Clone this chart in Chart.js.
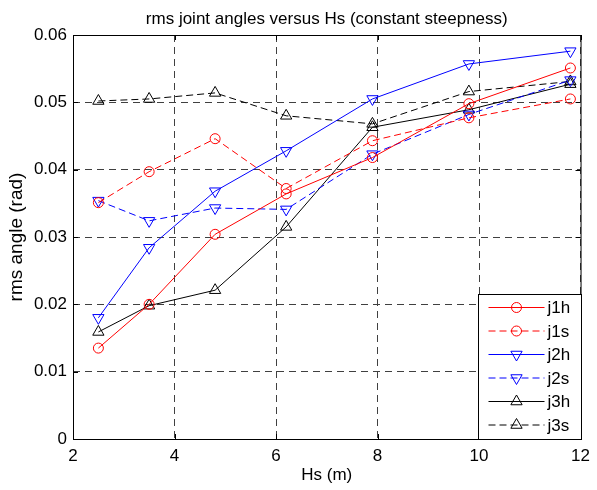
<!DOCTYPE html>
<html>
<head>
<meta charset="utf-8">
<script src="https://cdn.jsdelivr.net/npm/chart.js@4.4.0/dist/chart.umd.min.js"></script>
<style>
  body { margin: 0; background: #fff; }
</style>
</head>
<body>
<canvas id="joint-chart" width="597" height="490"></canvas>
<script>
Chart.defaults.font.family = 'Liberation Sans, Arial, sans-serif'

// Significant wave height (m)
const hs = [2.5, 3.5, 4.8, 6.2, 7.9, 9.8, 11.8];

// rms joint angles (rad)
const j1h = [0.0135, 0.0200, 0.0304, 0.0364, 0.0418, 0.0498, 0.0551];
const j1s = [0.0351, 0.0397, 0.0446, 0.0372, 0.0443, 0.0477, 0.0505];
const j2h = [0.0180, 0.0284, 0.0368, 0.0428, 0.0505, 0.0557, 0.0576];
const j2s = [0.0354, 0.0324, 0.0343, 0.0341, 0.0423, 0.0482, 0.0533];
const j3h = [0.0159, 0.0198, 0.0221, 0.0315, 0.0463, 0.0489, 0.0527];
const j3s = [0.0502, 0.0505, 0.0514, 0.0480, 0.0468, 0.0516, 0.0531];

const xTicks = [2, 4, 6, 8, 10, 12];
const yTicks = [0, 0.01, 0.02, 0.03, 0.04, 0.05, 0.06];

const titleText = 'rms joint angles versus Hs (constant steepness)';
const xLabel = 'Hs (m)';
const yLabel = 'rms angle (rad)';

// line definitions: label, data, colour, dashed?, marker
const lines = [
  { label: 'j1h', values: j1h, color: '#ff0000', dashed: false, marker: 'circle', rotation: 0 },
  { label: 'j1s', values: j1s, color: '#ff0000', dashed: true,  marker: 'circle', rotation: 0 },
  { label: 'j2h', values: j2h, color: '#0000ff', dashed: false, marker: 'triangle', rotation: 180 },
  { label: 'j2s', values: j2s, color: '#0000ff', dashed: true,  marker: 'triangle', rotation: 180 },
  { label: 'j3h', values: j3h, color: '#000000', dashed: false, marker: 'triangle', rotation: 0 },
  { label: 'j3s', values: j3s, color: '#000000', dashed: true,  marker: 'triangle', rotation: 0 }
];

const datasets = lines.map(line => ({
  label: line.label,
  data: hs.map((x, i) => ({ x: x, y: line.values[i] })),
  borderColor: line.color,
  backgroundColor: 'rgba(0,0,0,0)',
  borderWidth: 1,
  borderDash: line.dashed ? [7, 4] : [],
  pointStyle: line.marker,
  pointRotation: line.rotation,
  pointRadius: line.marker === 'circle' ? 5 : 6.5,
  pointBorderColor: line.color,
  pointBackgroundColor: 'rgba(0,0,0,0)',
  pointBorderWidth: 1,
  tension: 0,
  clip: false
}));

// title, box frame, inward ticks and the legend box
const framePlugin = {
  id: 'frame',
  afterDraw(chart) {
    const { ctx, chartArea } = chart;
    const xs = chart.scales.x, ys = chart.scales.y;
    ctx.save();

    // title
    ctx.fillStyle = '#000';
    ctx.font = '17px Liberation Sans, Arial, sans-serif';
    ctx.textAlign = 'center';
    ctx.textBaseline = 'middle';
    ctx.fillText(titleText, (chartArea.left + chartArea.right) / 2, 19);

    // axes box
    ctx.strokeStyle = '#000';
    ctx.lineWidth = 1;
    ctx.setLineDash([]);
    ctx.strokeRect(chartArea.left + 0.5, chartArea.top + 0.5,
      chartArea.right - chartArea.left, chartArea.bottom - chartArea.top);

    // inward ticks on all four sides
    const tl = 5;
    ctx.beginPath();
    xTicks.forEach(v => {
      const px = Math.round(xs.getPixelForValue(v)) + 0.5;
      ctx.moveTo(px, chartArea.bottom); ctx.lineTo(px, chartArea.bottom - tl);
      ctx.moveTo(px, chartArea.top); ctx.lineTo(px, chartArea.top + tl);
    });
    yTicks.forEach(v => {
      const py = Math.round(ys.getPixelForValue(v)) + 0.5;
      ctx.moveTo(chartArea.left, py); ctx.lineTo(chartArea.left + tl, py);
      ctx.moveTo(chartArea.right, py); ctx.lineTo(chartArea.right - tl, py);
    });
    ctx.stroke();

    // legend (south east)
    const w = 103, h = 145;
    const left = Math.round(chartArea.right - w) + 0.5;
    const top = Math.round(chartArea.bottom - h) + 0.5;
    ctx.fillStyle = '#fff';
    ctx.fillRect(left, top, w, h);
    ctx.strokeStyle = '#000';
    ctx.strokeRect(left, top, w, h);

    chart.data.datasets.forEach((ds, i) => {
      const y = top + 13 + i * 23.5;
      ctx.strokeStyle = ds.borderColor;
      ctx.lineWidth = 1;
      ctx.setLineDash(ds.borderDash);
      ctx.beginPath();
      ctx.moveTo(left + 10, y);
      ctx.lineTo(left + 66, y);
      ctx.stroke();
      ctx.setLineDash([]);
      ctx.fillStyle = 'rgba(0,0,0,0)';
      Chart.helpers.drawPoint(ctx, {
        pointStyle: ds.pointStyle,
        rotation: ds.pointRotation,
        radius: ds.pointRadius,
        borderWidth: 1
      }, left + 38, y);
      ctx.fillStyle = '#000';
      ctx.font = '17px Liberation Sans, Arial, sans-serif';
      ctx.textAlign = 'left';
      ctx.textBaseline = 'middle';
      ctx.fillText(ds.label, left + 69, y + 1);
    });

    ctx.restore();
  }
};

const gridColor = '#404040';

const config = {
  type: 'line',
  data: { datasets },
  options: {
    responsive: false,
    animation: false,
    layout: { padding: { top: 35, right: 11, left: 0, bottom: 0 } },
    plugins: {
      legend: { display: false },
      tooltip: { enabled: false },
      title: { display: false }
    },
    scales: {
      x: {
        type: 'linear',
        min: 2,
        max: 12,
        afterBuildTicks: scale => { scale.ticks = xTicks.map(v => ({ value: v })); },
        afterFit: scale => { scale.height = 51; },
        ticks: {
          color: '#000',
          font: { size: 17 },
          padding: 7,
          maxRotation: 0,
          callback: v => String(v)
        },
        grid: { color: gridColor, lineWidth: 1, drawTicks: false },
        border: { display: false, dash: [7, 5] },
        title: {
          display: true,
          text: xLabel,
          color: '#000',
          font: { size: 17 },
          padding: { top: 0, bottom: 4 }
        }
      },
      y: {
        type: 'linear',
        min: 0,
        max: 0.06,
        afterBuildTicks: scale => { scale.ticks = yTicks.map(v => ({ value: v })); },
        afterFit: scale => { scale.width = 73; },
        ticks: {
          color: '#000',
          font: { size: 17 },
          padding: 6,
          callback: v => v === 0 ? '0' : v.toFixed(2)
        },
        grid: { color: gridColor, lineWidth: 1, drawTicks: false },
        border: { display: false, dash: [7, 5] },
        title: {
          display: true,
          text: yLabel,
          color: '#000',
          font: { size: 19 },
          padding: { top: 5, bottom: 0 }
        }
      }
    }
  },
  plugins: [framePlugin]
};

const ctx = document.getElementById('joint-chart').getContext('2d');
const jointChart = new Chart(ctx, config);
</script>
</body>
</html>
